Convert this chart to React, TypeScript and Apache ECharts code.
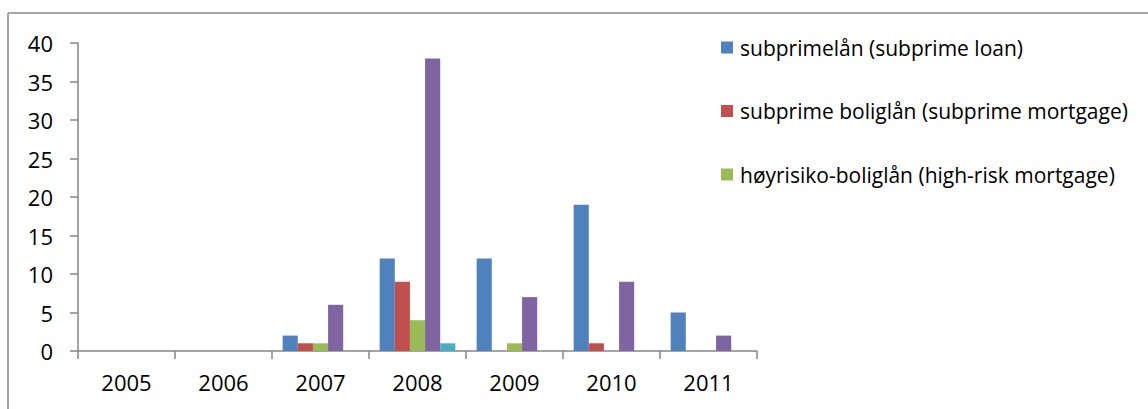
import React, { useEffect, useRef } from "react";
import * as echarts from "echarts";

const years = ["2005", "2006", "2007", "2008", "2009", "2010", "2011"];
const seriesNames = [
  "subprimelån (subprime loan)",
  "subprime boliglån (subprime mortgage)",
  "høyrisiko-boliglån (high-risk mortgage)",
  "serie 4",
  "serie 5",
];
const legendNames = seriesNames.slice(0, 3);
const subprimeLoan = [0, 0, 2, 12, 12, 19, 5];
const subprimeMortgage = [0, 0, 1, 9, 0, 1, 0];
const highRiskMortgage = [0, 0, 1, 4, 1, 0, 0];
const series4 = [0, 0, 6, 38, 7, 9, 2];
const series5 = [0, 0, 0, 1, 0, 0, 0];
const colors = ["#4F81BD", "#C0504D", "#9BBB59", "#8064A2", "#4BACC6"];
const yTicks = { min: 0, max: 40, interval: 5 };

const FONT = "'Open Sans', 'Noto Sans', sans-serif";

export default function App() {
  const ref = useRef<HTMLDivElement>(null);
  useEffect(() => {
    const chart = echarts.init(ref.current!, null, { renderer: "svg" });
    const values = [subprimeLoan, subprimeMortgage, highRiskMortgage, series4, series5];
    chart.setOption({
      animation: false,
      color: colors,
      textStyle: { fontFamily: FONT },
      grid: { left: 78, right: 391, top: 43, bottom: 58, containLabel: false },
      legend: {
        data: legendNames,
        orient: "vertical",
        left: 716,
        top: 32,
        itemWidth: 12,
        itemHeight: 12,
        itemGap: 42.5,
        icon: "rect",
        textStyle: { fontSize: 21, color: "#000", fontFamily: FONT, padding: [0, 0, 0, 2] },
        selectedMode: false,
      },
      graphic: [
        { type: "line", shape: { x1: 8, y1: 13, x2: 1148, y2: 13 }, style: { stroke: "#888", lineWidth: 1.5 } },
        { type: "line", shape: { x1: 8, y1: 13, x2: 8, y2: 409 }, style: { stroke: "#888", lineWidth: 1.5 } },
      ],
      xAxis: {
        type: "category",
        data: years,
        axisLine: { lineStyle: { color: "#868686", width: 1.5 } },
        axisTick: { show: true, length: 8, lineStyle: { color: "#868686", width: 1.5 } },
        axisLabel: { color: "#000", fontSize: 22, margin: 20, fontFamily: FONT },
      },
      yAxis: {
        type: "value",
        min: yTicks.min,
        max: yTicks.max,
        interval: yTicks.interval,
        axisLine: { show: true, lineStyle: { color: "#868686", width: 1.5 } },
        axisTick: { show: true, length: 8, lineStyle: { color: "#868686", width: 1.5 } },
        splitLine: { show: false },
        axisLabel: { color: "#000", fontSize: 22, margin: 25, fontFamily: FONT },
      },
      series: seriesNames.map((name, i) => ({
        name,
        type: "bar",
        data: values[i],
        barGap: "0%",
        barCategoryGap: "22%",
        itemStyle: { color: colors[i] },
      })),
    });
    return () => chart.dispose();
  }, []);
  return (
    <div
      ref={ref}
      style={{ position: "absolute", left: 0, top: 0, width: 1148, height: 409, background: "#fff" }}
    />
  );
}
